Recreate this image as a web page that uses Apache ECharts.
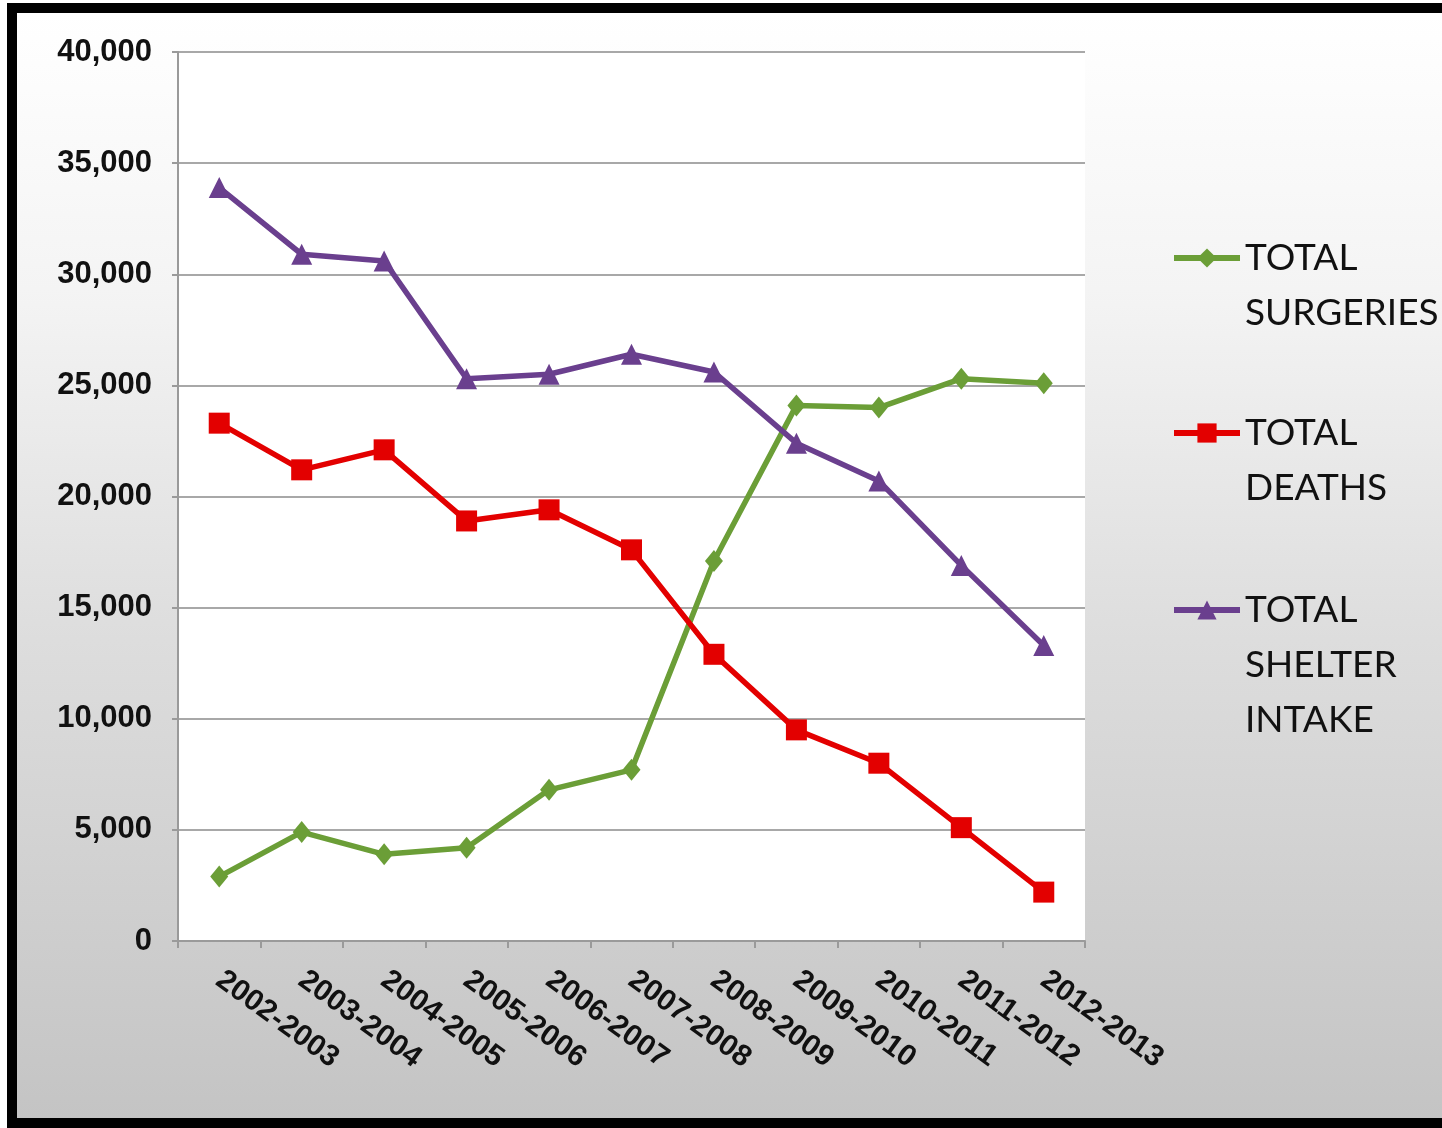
<!DOCTYPE html>
<html>
<head>
<meta charset="utf-8">
<script src="https://cdn.jsdelivr.net/npm/echarts@6/dist/echarts.min.js"></script>
<style>
  html, body { margin: 0; padding: 0; background: #ffffff; overflow: hidden; }
  #frame {
    position: absolute; left: 7px; top: 3px; width: 1445px; height: 1105px;
    border-left: 10px solid #000; border-top: 10px solid #000; border-bottom: 10px solid #000;
    background: linear-gradient(to bottom, #ffffff 0%, #f4f4f4 25%, #dedede 55%, #c4c4c4 100%);
  }
  #chart { position: absolute; left: 0; top: 0; width: 1442px; height: 1128px; }
</style>
</head>
<body>
<div id="frame"></div>
<div id="chart"></div>
<script>
const categories = ['2002-2003','2003-2004','2004-2005','2005-2006','2006-2007','2007-2008','2008-2009','2009-2010','2010-2011','2011-2012','2012-2013'];
const surgeries = [2900, 4900, 3900, 4200, 6800, 7700, 17100, 24100, 24000, 25300, 25100];
const deaths = [23300, 21200, 22100, 18900, 19400, 17600, 12900, 9500, 8000, 5100, 2200];
const shelterIntake = [33900, 30900, 30600, 25300, 25500, 26400, 25600, 22400, 20700, 16900, 13300];
const seriesNames = ['TOTAL SURGERIES', 'TOTAL DEATHS', 'TOTAL SHELTER INTAKE'];
const yTicks = { min: 0, max: 40000, interval: 5000 };

const colors = ['#6b9e37', '#e30000', '#6a3f8e'];
const LH = 55;

function makeLegend(name, top) {
  return {
    left: 1171, top: top, orient: 'vertical', padding: 0,
    itemWidth: 66, itemHeight: 24, itemGap: 0,
    data: [name],
    formatter: n => {
      const parts = n.split(' ');
      return '\n'.repeat(parts.length - 1) + parts.join('\n');
    },
    lineStyle: { width: 6 },
    textStyle: { fontFamily: 'Lato, "Liberation Sans", sans-serif', fontSize: 37, lineHeight: LH, color: '#111' },
    selectedMode: false
  };
}

const chart = echarts.init(document.getElementById('chart'), null, { renderer: 'canvas' });
chart.setOption({
  backgroundColor: 'transparent',
  animation: false,
  grid: { left: 178, top: 52, width: 907, height: 889, show: true, backgroundColor: '#ffffff', borderWidth: 0 },
  legend: [
    makeLegend(seriesNames[0], 175.5),
    makeLegend(seriesNames[1], 350.5),
    makeLegend(seriesNames[2], 472.5)
  ],
  xAxis: {
    type: 'category', data: categories, boundaryGap: true,
    axisLine: { lineStyle: { color: '#9a9a9a', width: 2 } },
    axisTick: { show: true, length: 7, lineStyle: { color: '#9a9a9a', width: 2 } },
    axisLabel: {
      rotate: -36, margin: 36, interval: 0,
      fontFamily: '"Liberation Sans", Arial, sans-serif', fontWeight: 'bold', fontSize: 30, color: '#111'
    }
  },
  yAxis: {
    type: 'value', min: yTicks.min, max: yTicks.max, interval: yTicks.interval,
    axisLine: { show: true, lineStyle: { color: '#9a9a9a', width: 2 } },
    axisTick: { show: true, length: 6, lineStyle: { color: '#9a9a9a', width: 2 } },
    splitLine: { lineStyle: { color: '#a8a8a8', width: 2 } },
    axisLabel: {
      margin: 26,
      formatter: v => v.toLocaleString('en-US'),
      fontFamily: '"Liberation Sans", Arial, sans-serif', fontWeight: 'bold', fontSize: 31, color: '#111'
    }
  },
  series: [
    { name: seriesNames[0], type: 'line', data: surgeries, symbol: 'diamond', symbolSize: [18, 22],
      itemStyle: { color: colors[0] }, lineStyle: { color: colors[0], width: 5.5 } },
    { name: seriesNames[1], type: 'line', data: deaths, symbol: 'rect', symbolSize: 21,
      itemStyle: { color: colors[1] }, lineStyle: { color: colors[1], width: 5.5 } },
    { name: seriesNames[2], type: 'line', data: shelterIntake, symbol: 'triangle', symbolSize: 21,
      itemStyle: { color: colors[2] }, lineStyle: { color: colors[2], width: 5.5 } }
  ]
});
</script>
</body>
</html>
